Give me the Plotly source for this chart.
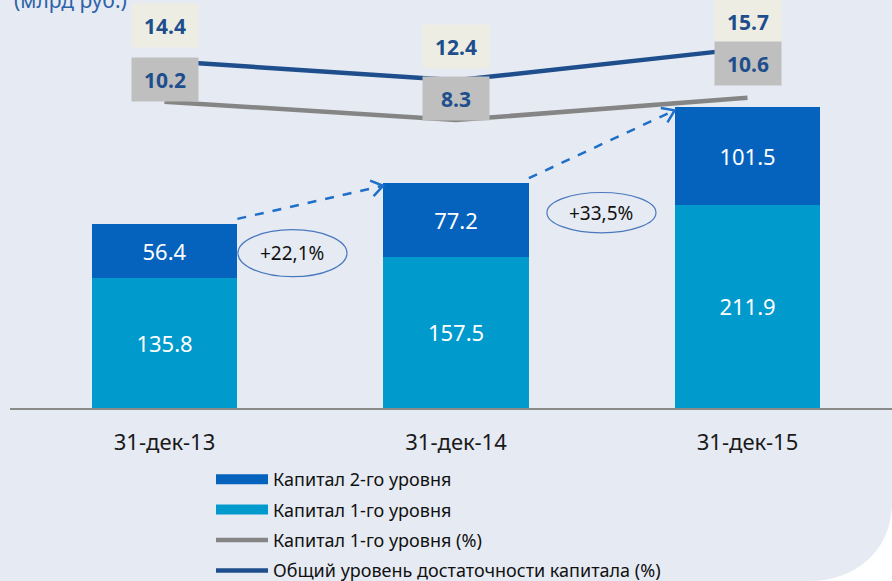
import math
import plotly.graph_objects as go

# ---------------- data ----------------
categories = ["31-дек-13", "31-дек-14", "31-дек-15"]
tier1_capital = [135.8, 157.5, 211.9]          # Капитал 1-го уровня (млрд руб.)
tier2_capital = [56.4, 77.2, 101.5]            # Капитал 2-го уровня (млрд руб.)
tier1_ratio = [10.2, 8.3, 10.6]                # Капитал 1-го уровня (%)
total_ratio = [14.4, 12.4, 15.7]               # Общий уровень достаточности капитала (%)
unit_label = "(млрд руб.)"

# ---------------- styles ----------------
BG = "#E6EBF3"
DARK_BAR = "#0563BE"
LIGHT_BAR = "#009ACC"
GREY_LINE = "#858585"
NAVY_LINE = "#1F4E8C"
LABEL_TXT = "#1F4E8C"
FONT = "Noto Sans"

W, H = 892, 581
ML, MR, MT, MB = 10, 0, 0, 173
PW, PH = W - ML - MR, H - MT - MB

x_idx = list(range(len(categories)))
totals = [a + b for a, b in zip(tier1_capital, tier2_capital)]

fig = go.Figure()

fig.add_trace(go.Bar(
    x=x_idx, y=tier1_capital, name="Капитал 1-го уровня",
    marker=dict(color=LIGHT_BAR, line=dict(width=0)), width=0.5,
    text=[f"{v:.1f}" for v in tier1_capital], textposition="inside",
    insidetextanchor="middle", textangle=0, constraintext="none",
    textfont=dict(color="white", size=22, family=FONT),
    showlegend=False,
))
fig.add_trace(go.Bar(
    x=x_idx, y=tier2_capital, name="Капитал 2-го уровня",
    marker=dict(color=DARK_BAR, line=dict(width=0)), width=0.5,
    text=[f"{v:.1f}" for v in tier2_capital], textposition="inside",
    insidetextanchor="middle", textangle=0, constraintext="none",
    textfont=dict(color="white", size=22, family=FONT),
    showlegend=False,
))
# legend proxies for the bars (wide rectangular swatches, as in the original)
fig.add_trace(go.Scatter(x=[None], y=[None], mode="lines", name="Капитал 2-го уровня",
                         line=dict(color=DARK_BAR, width=10), legendrank=1, legendgroup="g1"))
fig.add_trace(go.Scatter(x=[None], y=[None], mode="lines", name="Капитал 1-го уровня",
                         line=dict(color=LIGHT_BAR, width=10), legendrank=2, legendgroup="g2"))
fig.add_trace(go.Scatter(
    x=x_idx, y=tier1_ratio, yaxis="y2", mode="lines",
    name="Капитал 1-го уровня (%)",
    line=dict(color=GREY_LINE, width=4.5),
    legendrank=3, legendgroup="g3",
))
fig.add_trace(go.Scatter(
    x=x_idx, y=total_ratio, yaxis="y2", mode="lines",
    name="Общий уровень достаточности капитала (%)",
    line=dict(color=NAVY_LINE, width=4.5),
    legendrank=4, legendgroup="g4",
))

annotations = []
shapes = []

# ratio labels (boxes)
total_shift = [35, 34, 27]
tier1_shift = [22, 22, 34]
for i, v in enumerate(total_ratio):
    annotations.append(dict(
        x=i, y=v, xref="x", yref="y2", yshift=total_shift[i],
        text=f"<b>{v:.1f}</b>", showarrow=False,
        font=dict(size=21, color=LABEL_TXT, family=FONT),
        bgcolor="#EEEDE3", width=64, height=41, align="center", valign="middle",
    ))
for i, v in enumerate(tier1_ratio):
    annotations.append(dict(
        x=i, y=v, xref="x", yref="y2", yshift=tier1_shift[i],
        text=f"<b>{v:.1f}</b>", showarrow=False,
        font=dict(size=21, color=LABEL_TXT, family=FONT),
        bgcolor="#BFBFBF", width=64, height=41, align="center", valign="middle",
    ))

# axis scales (mirror of layout ranges) for decorative arrow heads
XR = [-0.530, 2.4957]
YR = [0, PH / 0.959]
def to_px(x, y):
    return (ML + (x - XR[0]) / (XR[1] - XR[0]) * PW,
            MT + PH - (y - YR[0]) / (YR[1] - YR[0]) * PH)
def to_data(px, py):
    return (XR[0] + (px - ML) / PW * (XR[1] - XR[0]),
            YR[0] + (MT + PH - py) / PH * (YR[1] - YR[0]))

ARROW = "#1F6FC8"
for i in range(len(totals) - 1):
    x0, y0 = i + 0.25, totals[i] + 5
    x1, y1 = i + 1 - 0.25, totals[i + 1] - 3
    shapes.append(dict(type="line", xref="x", yref="y", x0=x0, y0=y0, x1=x1, y1=y1,
                       line=dict(color=ARROW, width=2.5, dash="dash")))
    p0 = to_px(x0, y0); p1 = to_px(x1, y1)
    ang = math.atan2(p1[1] - p0[1], p1[0] - p0[0])
    pts = []
    for d in (math.pi - 0.6, math.pi + 0.6):
        pts.append((p1[0] + 14 * math.cos(ang + d), p1[1] + 14 * math.sin(ang + d)))
    a = to_data(*pts[0]); b = to_data(*pts[1])
    shapes.append(dict(type="path", xref="x", yref="y",
                       path=f"M{a[0]},{a[1]} L{x1},{y1} L{b[0]},{b[1]}",
                       line=dict(color=ARROW, width=2.5)))

# growth ellipses
ell_pos = [(0.439, 161.4, 0.187, 24.5), (1.499, 203.7, 0.187, 21.0)]
for i, (cx, cy, hw, hh) in enumerate(ell_pos):
    g = (totals[i + 1] / totals[i] - 1) * 100
    shapes.append(dict(type="circle", xref="x", yref="y",
                       x0=cx - hw, x1=cx + hw, y0=cy - hh, y1=cy + hh,
                       line=dict(color="#4A78BE", width=1.2)))
    annotations.append(dict(x=cx, y=cy, xref="x", yref="y",
                            text=f"+{g:.1f}%".replace(".", ","), showarrow=False,
                            font=dict(size=19, color="#111111", family=FONT)))

# unit label (partly cut at top, as in the original)
annotations.append(dict(x=0.002, y=1.0, xref="paper", yref="paper",
                        xanchor="left", yanchor="middle", text=unit_label,
                        showarrow=False, font=dict(size=21, color="#2E62A8", family=FONT)))

# rounded bottom-right corner of the panel
def pp(px, py):
    return ((px - ML) / PW, (MT + PH - py) / PH)
c = [pp(892, 503), pp(892, 550), pp(856, 581), pp(810, 581), pp(810, 600), pp(900, 600), pp(900, 503)]
shapes.append(dict(type="path", xref="paper", yref="paper", layer="above",
                   path=f"M{c[0][0]},{c[0][1]} C{c[1][0]},{c[1][1]} {c[2][0]},{c[2][1]} {c[3][0]},{c[3][1]} "
                        f"L{c[4][0]},{c[4][1]} L{c[5][0]},{c[5][1]} L{c[6][0]},{c[6][1]} Z",
                   fillcolor="white", line=dict(width=0)))

fig.update_layout(
    width=W, height=H,
    margin=dict(l=ML, r=MR, t=MT, b=MB, pad=0, autoexpand=False),
    paper_bgcolor=BG, plot_bgcolor=BG,
    barmode="stack",
    font=dict(family=FONT, color="#111111"),
    xaxis=dict(range=XR, tickmode="array", tickvals=x_idx, ticktext=categories,
               showgrid=False, zeroline=False, showline=True, linecolor="#8A8A8A", linewidth=2,
               ticks="outside", ticklen=14, tickcolor="rgba(0,0,0,0)",
               tickfont=dict(size=22, color="#1A1A1A", family=FONT), fixedrange=True),
    yaxis=dict(range=YR, visible=False, showgrid=False, zeroline=False),
    yaxis2=dict(range=[-21.40, 20.69], overlaying="y", visible=False, showgrid=False, zeroline=False),
    showlegend=True,
    legend=dict(x=(211 - ML) / PW, y=(MT + PH - 461) / PH, xanchor="left", yanchor="top",
                bgcolor="rgba(0,0,0,0)", font=dict(size=18, color="#111111", family=FONT),
                itemwidth=52, tracegroupgap=4, traceorder="grouped", itemclick=False),
    annotations=annotations, shapes=shapes,
)

fig.write_html("out.html",
               config={"displayModeBar": False},
               post_script="document.body.style.margin='0';document.body.style.overflow='hidden';")
